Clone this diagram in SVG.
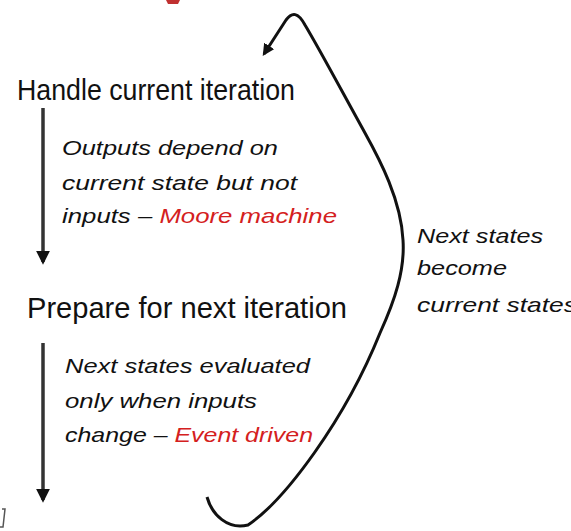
<svg xmlns="http://www.w3.org/2000/svg" width="571" height="531" viewBox="0 0 571 531">
<style>
.h{font-family:"Liberation Sans",Arial,sans-serif;font-size:29px;fill:#111}
.n{font-family:"Liberation Sans",Arial,sans-serif;font-size:21px;font-style:italic;fill:#111}
.r{fill:#d42020}
.ar{stroke:#333;stroke-width:3.5;fill:none}
.cv{stroke:#111;stroke-width:3;fill:none}
</style>
<defs>
<marker id="ah" viewBox="0 0 10 10" refX="8" refY="5" markerWidth="4" markerHeight="4" orient="auto" markerUnits="strokeWidth">
<path d="M0,0 L10,5 L0,10 z" fill="#111"/>
</marker>
</defs>
<rect width="571" height="531" fill="#fff"/>
<path d="M166,0 h14 l-2,4 h-10 z" fill="#c03030"/>
<path d="M2,509 L5,509 L3,527 L0,527" fill="none" stroke="#555" stroke-width="1.5"/>
<g id="connectors">
<line class="ar" x1="43" y1="108" x2="43" y2="262" marker-end="url(#ah)"/>
<line class="ar" x1="43" y1="343" x2="43" y2="500" marker-end="url(#ah)"/>
<path class="cv" d="M207,497 C212,515 228,530 248,525 C285,500 345,420 380,333 C395,300 405,270 403,240 C401,200 380,160 365,133 C345,97 320,50 305,25 C298,12 292,12 286,20 L264,54" marker-end="url(#ah)"/>
</g>
<g id="handle">
<text class="h" x="17" y="100" textLength="278" lengthAdjust="spacingAndGlyphs">Handle current iteration</text>
</g>
<g id="moore-note">
<text class="n" x="62" y="155" textLength="216" lengthAdjust="spacingAndGlyphs">Outputs depend on</text>
<text class="n" x="62" y="190" textLength="235" lengthAdjust="spacingAndGlyphs">current state but not</text>
<text class="n" x="62" y="223" textLength="275" lengthAdjust="spacingAndGlyphs">inputs – <tspan class="r">Moore machine</tspan></text>
</g>
<g id="prepare">
<text class="h" x="27" y="318" textLength="320" lengthAdjust="spacingAndGlyphs">Prepare for next iteration</text>
</g>
<g id="event-note">
<text class="n" x="65" y="373" textLength="245" lengthAdjust="spacingAndGlyphs">Next states evaluated</text>
<text class="n" x="65" y="408" textLength="192" lengthAdjust="spacingAndGlyphs">only when inputs</text>
<text class="n" x="65" y="442" textLength="248" lengthAdjust="spacingAndGlyphs">change – <tspan class="r">Event driven</tspan></text>
</g>
<g id="loop-label">
<text class="n" x="417" y="243" textLength="126" lengthAdjust="spacingAndGlyphs">Next states</text>
<text class="n" x="417" y="275" textLength="90" lengthAdjust="spacingAndGlyphs">become</text>
<text class="n" x="417" y="312" textLength="160" lengthAdjust="spacingAndGlyphs">current states</text>
</g>
</svg>
